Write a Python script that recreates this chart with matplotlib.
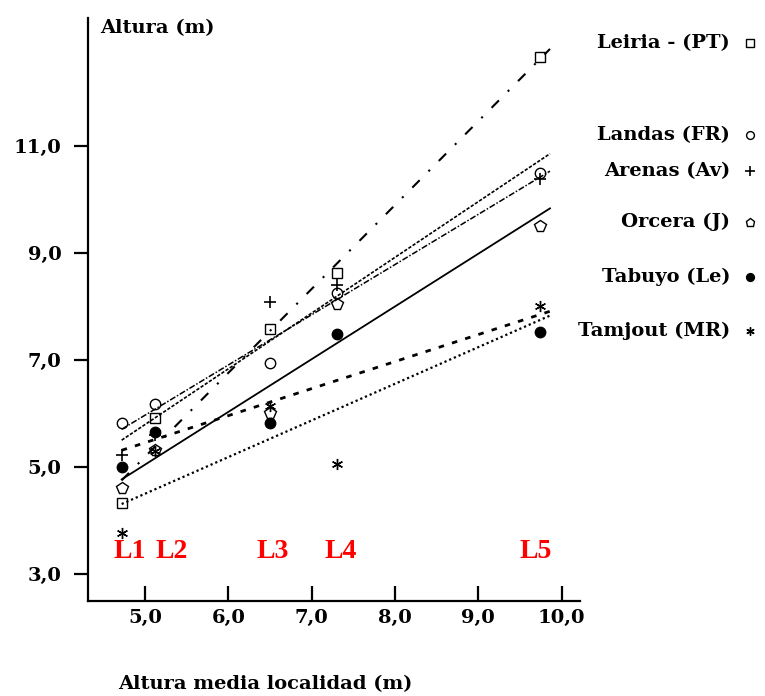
import matplotlib
matplotlib.use("Agg")
import matplotlib.pyplot as plt
import numpy as np

# altura media de cada localidad (eje x)
loc_x = [4.72, 5.12, 6.50, 7.30, 9.74]
loc_names = ["L1", "L2", "L3", "L4", "L5"]
loc_label_x = [4.82, 5.32, 6.53, 7.35, 9.69]

# altura por procedencia en cada localidad
leiria = [4.32, 5.92, 7.57, 8.62, 12.65]
landas = [5.83, 6.18, 6.94, 8.25, 10.49]
arenas = [5.22, 5.60, 8.08, 8.40, 10.38]
orcera = [4.60, 5.32, 6.00, 8.05, 9.50]
tabuyo = [5.00, 5.66, 5.83, 7.49, 7.52]
tamjout = [3.76, 5.30, 6.13, 5.05, 8.00]

xticks = [5, 6, 7, 8, 9, 10]
xticklabels = ["5,0", "6,0", "7,0", "8,0", "9,0", "10,0"]
yticks = [3, 5, 7, 9, 11]
yticklabels = ["3,0", "5,0", "7,0", "9,0", "11,0"]

series = [
    ("Leiria - (PT)", leiria, dict(marker="s", mfc="none", ms=7.5), (0, (5, 6, 1, 6)), 1.5),
    ("Landas (FR)", landas, dict(marker="o", mfc="none", ms=7.5), (0, (4, 1.2, 1, 1.2)), 1.1),
    ("Arenas (Av)", arenas, dict(marker="+", ms=9, mew=1.2), (0, (2, 1)), 1.2),
    ("Orcera (J)", orcera, dict(marker="p", mfc="none", ms=8.5), "-", 1.3),
    ("Tabuyo (Le)", tabuyo, dict(marker="o", mfc="black", ms=7.5), (0, (2, 3)), 2.0),
    ("Tamjout (MR)", tamjout, dict(marker=(6, 2, 0), ms=8, mew=1.0), (0, (1, 1.3)), 1.6),
]
legend_y = [43, 135, 171, 222, 277, 331]

tick_font = dict(family="DejaVu Serif", weight="bold", size=14)

fig = plt.figure(figsize=(7.65, 6.96), dpi=100)
ax = fig.add_axes([88 / 765, 1 - 601 / 696, (580 - 88) / 765, (601 - 18) / 696])
ax.set_xlim(4.316, 10.22)
ax.set_ylim(2.5, 13.38)

x = np.array(loc_x)
for name, vals, mk, ls, lw in series:
    ax.plot(x, vals, linestyle="none", color="black", zorder=3, **mk)
    b, a = np.polyfit(x, vals, 1)
    xx = np.array([x.min(), x.max() + 0.12])
    ax.plot(xx, a + b * xx, color="black", linestyle=ls, lw=lw, zorder=2)

for lx, nm in zip(loc_label_x, loc_names):
    ax.text(lx, 3.43, nm, color="red", fontsize=20, fontweight="bold",
            family="Liberation Serif", ha="center", va="center")

ax.spines["top"].set_visible(False)
ax.spines["right"].set_visible(False)
ax.spines["left"].set_linewidth(1.6)
ax.spines["bottom"].set_linewidth(1.6)
ax.set_xticks(xticks)
ax.set_xticklabels(xticklabels, fontdict=tick_font)
ax.set_yticks(yticks)
ax.set_yticklabels(yticklabels, fontdict=tick_font)
ax.tick_params(axis="x", direction="in", length=11, width=1.6, pad=6)
ax.tick_params(axis="y", direction="out", length=10, width=1.6, pad=9)

fig.text(100 / 765, 1 - 28 / 696, "Altura (m)", ha="left", va="center", **tick_font)
fig.text(265 / 765, 1 - 684 / 696, "Altura media localidad (m)", ha="center", va="center", **tick_font)

# leyenda a la derecha, en coordenadas de pixel
lax = fig.add_axes([581 / 765, 0, 184 / 765, 1])
lax.set_xlim(581, 765)
lax.set_ylim(696, 0)
lax.axis("off")
for (name, vals, mk, ls, lw), ly in zip(series, legend_y):
    lax.text(730, ly, name, ha="right", va="center", **tick_font)
    small = dict(mk)
    small["ms"] = mk["ms"] * 0.75
    lax.plot([750], [ly], linestyle="none", color="black", **small)

fig.savefig("out.png", dpi=100)
